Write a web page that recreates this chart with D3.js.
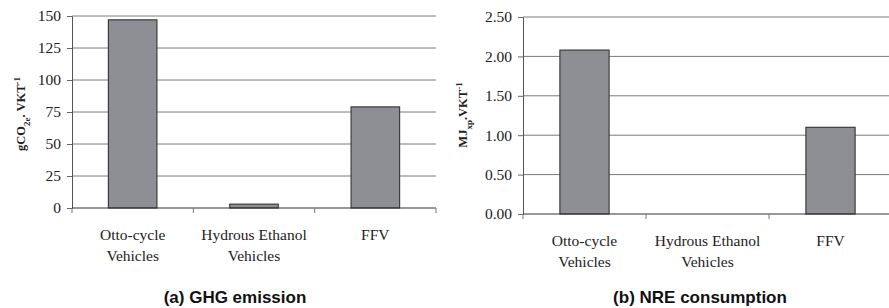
<!DOCTYPE html>
<html>
<head>
<meta charset="utf-8">
<script src="https://d3js.org/d3.v7.min.js"></script>
<style>
  body { margin: 0; background: #fff; }
  .title { font-family: "Liberation Sans", Arial, Helvetica, sans-serif; font-weight: bold; font-size: 17px; }
</style>
</head>
<body>
<svg id="chart" width="889" height="308"></svg>
<script>
// categories, shared by both panels
var categories = ["Otto-cycle Vehicles", "Hydrous Ethanol Vehicles", "FFV"];
var catLines = [["Otto-cycle", "Vehicles"], ["Hydrous Ethanol", "Vehicles"], ["FFV"]];

// (a) GHG emission, gCO2e per VKT
var ghgValues = [147, 3, 79];
var ghgTicks = [0, 25, 50, 75, 100, 125, 150];

// (b) NRE consumption, MJxp per VKT
var nreValues = [2.08, 0, 1.10];
var nreTicks = [0, 0.5, 1.0, 1.5, 2.0, 2.5];

var SERIF = "'Liberation Serif', 'Times New Roman', Times, 'DejaVu Serif', serif";
var svg = d3.select("#chart");

function panel(opt) {
  var g = svg.append("g");
  var x = d3.scaleBand().domain(categories).range([opt.x0, opt.x1]);
  var y = d3.scaleLinear().domain([0, opt.max]).range([opt.y0, opt.y1]);

  // gridlines
  g.selectAll("line.grid").data(opt.ticks.filter(function(d) { return d > 0; }))
    .enter().append("line")
    .attr("x1", opt.x0).attr("x2", opt.x1)
    .attr("y1", function(d) { return y(d); }).attr("y2", function(d) { return y(d); })
    .attr("stroke", "#7a7a7a").attr("stroke-width", 1);

  // y axis
  var ya = g.append("g").attr("transform", "translate(" + opt.x0 + ",0)")
    .call(d3.axisLeft(y).tickValues(opt.ticks).tickFormat(opt.fmt).tickSize(5).tickPadding(6));
  ya.attr("font-family", null).attr("font-size", null);
  ya.select(".domain").attr("stroke", "#555");
  ya.selectAll(".tick line").attr("stroke", "#666");
  ya.selectAll(".tick text").attr("fill", "#222")
    .style("font-family", SERIF).style("font-size", "15.5px");

  // bars
  var bw = x.bandwidth() * 0.4;
  g.selectAll("rect.bar").data(opt.values).enter().append("rect")
    .attr("x", function(d, i) { return x(categories[i]) + (x.bandwidth() - bw) / 2; })
    .attr("width", bw)
    .attr("y", function(d) { return y(d); })
    .attr("height", function(d) { return opt.y0 - y(d); })
    .attr("fill", "#8e8f94").attr("stroke", "#3c3c3c").attr("stroke-width", 1.2);

  // x axis line and ticks at category boundaries
  g.append("line").attr("x1", opt.x0).attr("x2", opt.x1)
    .attr("y1", opt.y0).attr("y2", opt.y0).attr("stroke", "#333").attr("stroke-width", 1.2);
  var bounds = categories.map(function(c) { return x(c); }).concat([opt.x1]);
  g.selectAll("line.xt").data(bounds).enter().append("line")
    .attr("x1", function(d) { return d; }).attr("x2", function(d) { return d; })
    .attr("y1", opt.y0).attr("y2", opt.y0 + 5).attr("stroke", "#777");

  // category labels
  catLines.forEach(function(lines, i) {
    var cx = x(categories[i]) + x.bandwidth() / 2;
    var t = g.append("text").attr("text-anchor", "middle")
      .attr("x", cx).attr("y", opt.y0 + 32)
      .style("font-family", SERIF).style("font-size", "15.5px").attr("fill", "#222");
    lines.forEach(function(l, j) {
      t.append("tspan").attr("x", cx).attr("dy", j === 0 ? 0 : 21).text(l);
    });
  });

  // y label
  var lab = g.append("text").attr("text-anchor", "middle")
    .attr("transform", "translate(" + opt.labX + "," + opt.labY + ") rotate(-90)")
    .style("font-family", SERIF).style("font-size", "12.5px").style("font-weight", "bold").attr("fill", "#222");
  opt.label.forEach(function(p) {
    var ts = lab.append("tspan").text(p.t);
    if (p.sub) ts.attr("baseline-shift", "sub").style("font-size", "9px");
    if (p.sup) ts.attr("baseline-shift", "super").style("font-size", "9px");
  });

  // panel title
  g.append("text").attr("class", "title").attr("text-anchor", "middle")
    .attr("x", opt.titleX).attr("y", 303).attr("fill", "#111").text(opt.title);
}

panel({
  x0: 72, x1: 436, y0: 208, y1: 16, max: 150,
  values: ghgValues, ticks: ghgTicks, fmt: d3.format("d"),
  labX: 25, labY: 114,
  label: [{t: "gCO"}, {t: "2e", sub: true}, {t: ". VKT"}, {t: "-1", sup: true}],
  title: "(a) GHG emission", titleX: 235
});

panel({
  x0: 523, x1: 892, y0: 214, y1: 17, max: 2.5,
  values: nreValues, ticks: nreTicks, fmt: d3.format(".2f"),
  labX: 467, labY: 115,
  label: [{t: "MJ"}, {t: "xp", sub: true}, {t: ".VKT"}, {t: "-1", sup: true}],
  title: "(b) NRE consumption", titleX: 700
});
</script>
</body>
</html>
